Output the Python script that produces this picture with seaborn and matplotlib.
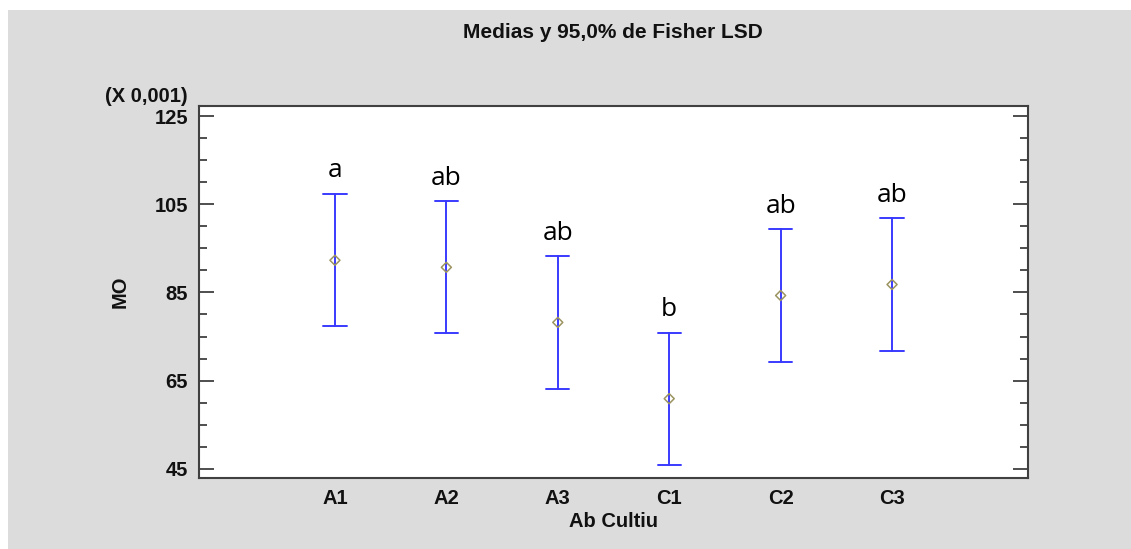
import matplotlib
matplotlib.use("Agg")
import matplotlib.pyplot as plt
from matplotlib.patches import Rectangle
from matplotlib.ticker import MultipleLocator, FixedLocator
import seaborn as sns
import pandas as pd

# ---- data (values in units of 0.001) ----
groups = ["A1", "A2", "A3", "C1", "C2", "C3"]
means = [92.3, 90.7, 78.2, 60.9, 84.3, 86.8]
lower = [77.3, 75.7, 63.2, 45.9, 69.3, 71.8]
upper = [107.3, 105.7, 93.2, 75.9, 99.3, 101.8]
letters = ["a", "ab", "ab", "b", "ab", "ab"]
yticks = [45, 65, 85, 105, 125]

sns.set_theme(style="white")
plt.rcParams["font.family"] = ["Liberation Sans", "DejaVu Sans"]

fig = plt.figure(figsize=(11.31, 5.49), dpi=100)
fig.patch.set_facecolor("white")
fig.patches.append(Rectangle((8 / 1131, 0), 1, 539 / 549, transform=fig.transFigure,
                             facecolor="#dcdcdc", edgecolor="none", zorder=-10))

ax = fig.add_axes([199 / 1131, 71 / 549, 829 / 1131, 372 / 549])
ax.set_facecolor("white")

# long table: low / mean / high for each group -> median & full range give the interval
rows = []
for g, lo, m, hi in zip(groups, lower, means, upper):
    for v in (lo, m, hi):
        rows.append({"group": g, "value": v})
df = pd.DataFrame(rows)
dmean = pd.DataFrame({"group": groups, "value": means})

blue = "#3a3aff"
sns.pointplot(data=df, x="group", y="value", order=groups, estimator="median",
              errorbar=("pi", 100), color=blue, markers="", linestyles="none",
              capsize=0.21, err_kws={"linewidth": 1.4}, ax=ax)
sns.scatterplot(data=dmean, x="group", y="value", marker="D", s=26,
                facecolor="none", edgecolor="#9c9460", linewidth=1.1, ax=ax, zorder=5)

for i, (hi, lab) in enumerate(zip(upper, letters)):
    ax.annotate(lab, xy=(i, hi), xytext=(0, 12), textcoords="offset points",
                ha="center", va="baseline", fontsize=19,
                family=["Open Sans", "DejaVu Sans"], color="black")

ax.set_xlim(-1.22, 6.22)
ax.set_ylim(42.9, 127.3)
ax.yaxis.set_major_locator(FixedLocator(yticks))
ax.yaxis.set_minor_locator(MultipleLocator(5))
ax.set_yticklabels([str(t) for t in yticks])

for s in ax.spines.values():
    s.set_color("#404040")
    s.set_linewidth(1.5)
    s.set_visible(True)

ax.tick_params(axis="y", which="major", direction="in", length=11, width=1.3,
               color="#404040", left=True, right=True, pad=8, labelsize=14.5)
ax.tick_params(axis="y", which="minor", direction="in", length=6, width=1.3,
               color="#404040", left=True, right=True)
ax.tick_params(axis="x", which="both", length=0, pad=8, labelsize=14.5)
for lab in ax.get_xticklabels() + ax.get_yticklabels():
    lab.set_fontweight("bold")
    lab.set_color("#111111")

ax.set_xlabel("Ab Cultiu", fontsize=14.5, fontweight="bold", color="#111111")
ax.xaxis.set_label_coords(0.5, -0.118)
ax.xaxis.label.set_va("center")
ax.set_ylabel("MO", fontsize=14.5, fontweight="bold", color="#111111")
ax.yaxis.set_label_coords(-0.095, 0.5)
ax.yaxis.label.set_va("center")

fig.text(0.5418, (549 - 33) / 549, "Medias y 95,0% de Fisher LSD", ha="center",
         va="center", fontsize=15, fontweight="bold", color="#111111")
fig.text(188 / 1131, (549 - 97) / 549, "(X 0,001)", ha="right", va="center",
         fontsize=14.5, fontweight="bold", color="#111111")

fig.savefig("out.png", dpi=100, facecolor=fig.get_facecolor())
